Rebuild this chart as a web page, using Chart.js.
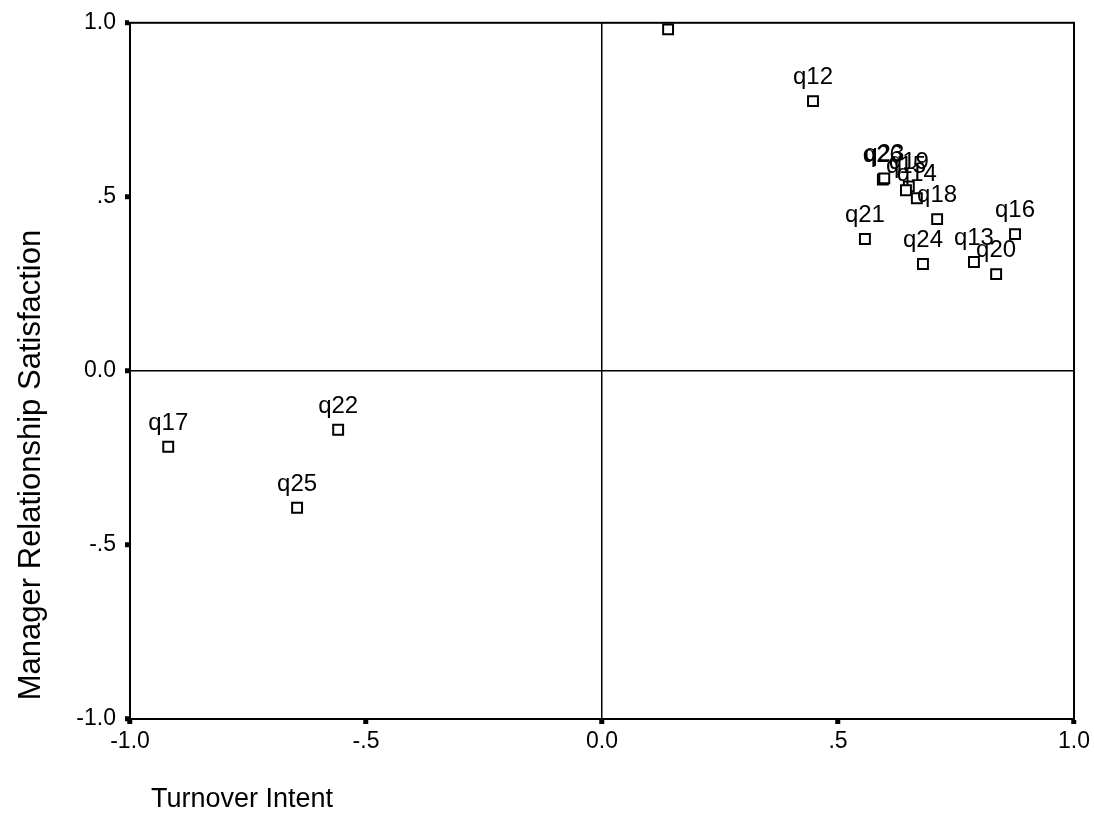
<!DOCTYPE html>
<html>
<head>
<meta charset="utf-8">
<script src="https://cdn.jsdelivr.net/npm/chart.js@4.4.1/dist/chart.umd.min.js"></script>
<style>
  html, body { margin: 0; padding: 0; background: #fff; }
  #wrap { width: 1094px; height: 838px; }
</style>
</head>
<body>
<div id="wrap"><canvas id="plot"></canvas></div>
<script>
// item labels ('' = label falls off the top)
const items = ['', 'q12', 'q26', 'q23', 'q19', 'q15', 'q14', 'q18', 'q21', 'q24', 'q13', 'q16', 'q20', 'q17', 'q22', 'q25'];
const turnover = [0.140, 0.447, 0.595, 0.598, 0.650, 0.644, 0.667, 0.710, 0.557, 0.680, 0.788, 0.875, 0.835, -0.919, -0.559, -0.646];
const satisfaction = [0.981, 0.775, 0.550, 0.553, 0.530, 0.519, 0.496, 0.436, 0.379, 0.307, 0.313, 0.393, 0.278, -0.218, -0.169, -0.393];
const tickText = { '-1': '-1.0', '-0.5': '-.5', '0': '0.0', '0.5': '.5', '1': '1.0' };

const FONT = '"Liberation Sans", Arial, sans-serif';

const points = turnover.map((x, i) => ({ x: x, y: satisfaction[i] }));

// frame, point labels, axis titles
const decor = {
    id: 'decor',
    afterDatasetsDraw(chart) {
        const ctx = chart.ctx;
        const a = chart.chartArea;
        ctx.save();
        ctx.strokeStyle = '#000';
        ctx.lineWidth = 2;
        ctx.strokeRect(a.left, a.top, a.right - a.left, a.bottom - a.top);

        ctx.fillStyle = '#000';
        ctx.font = '24px ' + FONT;
        ctx.textAlign = 'center';
        ctx.textBaseline = 'alphabetic';
        const xs = chart.scales.x, ys = chart.scales.y;
        items.forEach((name, i) => {
            if (!name) return;
            ctx.fillText(name, xs.getPixelForValue(turnover[i]), ys.getPixelForValue(satisfaction[i]) - 17);
        });

        ctx.font = '27px ' + FONT;
        ctx.textAlign = 'left';
        ctx.textBaseline = 'middle';
        ctx.fillText('Turnover Intent', 151, 800);

        ctx.font = '31px ' + FONT;
        ctx.translate(31, 465);
        ctx.rotate(-Math.PI / 2);
        ctx.textAlign = 'center';
        ctx.fillText('Manager Relationship Satisfaction', 0, 0);
        ctx.restore();
    }
};

function axis(pos, pad) {
    return {
        type: 'linear',
        position: pos,
        min: -1,
        max: 1,
        ticks: {
            stepSize: 0.5,
            color: '#000',
            padding: pad,
            font: { family: FONT, size: 23 },
            callback: v => tickText[String(v)]
        },
        grid: {
            color: c => c.tick && c.tick.value === 0 ? '#000' : 'rgba(0,0,0,0)',
            lineWidth: 1.5,
            tickColor: '#000',
            tickLength: 5,
            tickWidth: 5,
            drawTicks: true
        },
        border: { display: true, color: '#000', width: 2 },
        title: { display: false }
    };
}

const xAxis = axis('bottom', 4);
xAxis.afterFit = s => { s.height = 119; };
const yAxis = axis('left', 9);
yAxis.afterFit = s => { s.width = 130; };

new Chart(document.getElementById('plot'), {
    type: 'scatter',
    data: {
        datasets: [{
            data: points,
            pointStyle: 'rect',
            pointRadius: 7,
            pointHoverRadius: 7,
            borderColor: '#000',
            backgroundColor: '#fff',
            borderWidth: 2
        }]
    },
    options: {
        responsive: true,
        maintainAspectRatio: false,
        animation: false,
        layout: { padding: { top: 22, right: 19, left: 0, bottom: 0 } },
        plugins: { legend: { display: false }, tooltip: { enabled: false } },
        scales: { x: xAxis, y: yAxis }
    },
    plugins: [decor]
});
</script>
</body>
</html>
